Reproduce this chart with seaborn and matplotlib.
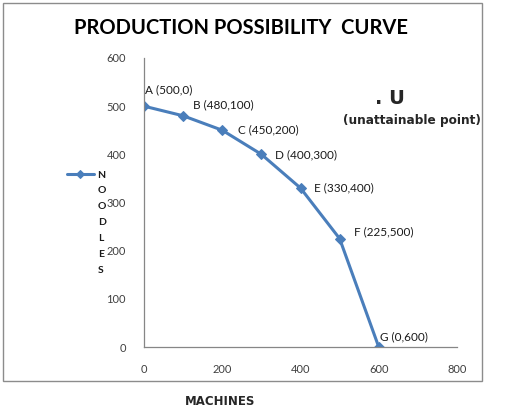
import matplotlib
matplotlib.use("Agg")
import matplotlib.pyplot as plt
from matplotlib.patches import Rectangle
import seaborn as sns
import pandas as pd

machines = [0, 100, 200, 300, 400, 500, 600]
noodles = [500, 480, 450, 400, 330, 225, 0]
point_labels = ["A (500,0)", "B (480,100)", "C (450,200)", "D (400,300)",
                "E (330,400)", "F (225,500)", "G (0,600)"]
label_offsets = [(1, 12), (7, 8), (11, 0), (10, 0), (10, 0), (10, 5), (1, 7)]
x_ticks = [0, 200, 400, 600, 800]
y_ticks = [0, 100, 200, 300, 400, 500, 600]

sns.set_style("white")
plt.rcParams['font.family'] = ['Lato', 'DejaVu Sans']

df = pd.DataFrame({"MACHINES": machines, "NOODLES": noodles})

fig = plt.figure(figsize=(5.15, 4.13), dpi=100)
ax = fig.add_axes([0.2796, 0.1598, 0.6078, 0.6998])

blue = "#4A7EBB"
sns.lineplot(data=df, x="MACHINES", y="NOODLES", ax=ax, color=blue, lw=2.2,
             marker="D", markersize=5.5, markeredgecolor=blue, label="N",
             sort=False)

ax.set_xlim(0, 800)
ax.set_ylim(0, 600)
ax.set_xticks(x_ticks)
ax.set_yticks(y_ticks)
ax.set_xlabel("")
ax.set_ylabel("")
for s in ["top", "right"]:
    ax.spines[s].set_visible(False)
for s in ["left", "bottom"]:
    ax.spines[s].set_color("#868686")
    ax.spines[s].set_linewidth(0.9)
ax.tick_params(axis="both", which="major", direction="out", length=4,
               width=0.9, color="#868686", labelsize=8, labelcolor="#404040",
               pad=9)
ax.tick_params(axis="x", pad=8)
ax.patch.set_alpha(0)

for x, y, t, off in zip(machines, noodles, point_labels, label_offsets):
    ax.annotate(t, (x, y), xytext=off, textcoords="offset points",
                fontsize=8.5, color="#1a1a1a", va="center", ha="left")

leg = ax.legend(loc="upper left", bbox_to_anchor=(0.13, 0.587),
                bbox_transform=fig.transFigure, frameon=False, fontsize=7.5,
                handlelength=2.6, handletextpad=0.3, borderpad=0, borderaxespad=0,
                markerscale=0.75)
for txt in leg.get_texts():
    txt.set_color("#1a1a1a")
    txt.set_fontweight("bold")
fig.text(0.1905, 0.549, "O\nO\nD\nL\nE\nS", fontsize=7.5, color="#1a1a1a",
         fontweight="bold", ha="left", va="top", linespacing=1.99)

fig.text(0.468, 0.932, "PRODUCTION POSSIBILITY  CURVE", fontsize=14.5,
         fontweight="bold", ha="center", va="center", color="black")
fig.text(0.757, 0.762, ". U", fontsize=14, fontweight="heavy",
         family="DejaVu Sans", ha="center", va="center")
fig.text(0.8, 0.709, "(unattainable point)", fontsize=8.7, fontweight="heavy",
         family="DejaVu Sans", ha="center", va="center")
fig.text(0.427, 0.029, "MACHINES", fontsize=8.5, fontweight="heavy",
         family="DejaVu Sans", ha="center", va="center")

fig.patches.append(Rectangle((3 / 515, 1 - 380.5 / 413), 479 / 515, 378 / 413,
                             transform=fig.transFigure, fill=False,
                             edgecolor="#8c8c8c", lw=1.0))

fig.savefig("out.png", dpi=100)
